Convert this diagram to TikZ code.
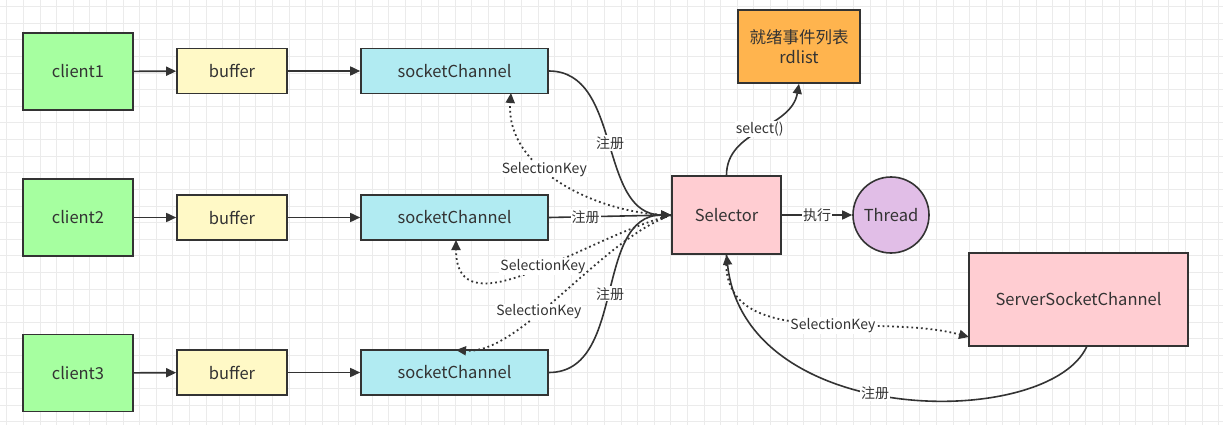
\documentclass[tikz,border=0pt]{standalone}
\usepackage{fontspec}
\setmainfont{Noto Sans CJK SC}
\usetikzlibrary{arrows.meta}
\definecolor{ln}{HTML}{333333}
\definecolor{txt}{HTML}{333333}
\definecolor{gridc}{HTML}{EBEBEB}
\definecolor{cgreen}{HTML}{A6FFA0}
\definecolor{cyellow}{HTML}{FFF9C6}
\definecolor{ccyan}{HTML}{B1EBF2}
\definecolor{cpink}{HTML}{FFCDD2}
\definecolor{cviolet}{HTML}{E1BEE7}
\definecolor{corange}{HTML}{FFB44E}
\begin{document}
\begin{tikzpicture}[x=1pt,y=-1pt,
  box/.style={draw=ln, line width=1.6pt, text=txt, inner sep=0pt, font=\fontsize{16.5}{20}\selectfont},
  lbl/.style={fill=white, text=txt, inner sep=1pt, font=\fontsize{14}{16}\selectfont},
  con/.style={draw=ln, line width=1.6pt, -{Triangle[length=10pt,width=9pt]}},
  key/.style={con, line width=1.8pt, dash pattern=on 1.8pt off 3pt}]
\useasboundingbox (0,0) rectangle (1223,425);
\fill[white] (0,0) rectangle (1223,425);
\draw[gridc, line width=0.8pt, xstep=16.6pt, ystep=16.6pt, shift={(6.7,6.7)}] (-6.7,-6.7) grid (1216,418);
\node[box, fill=cgreen, minimum width=110pt, minimum height=77pt] (cl1) at (78,71.5){client1};
\node[box, fill=cyellow, minimum width=110pt, minimum height=45pt] (buf1) at (232,71){buffer};
\node[box, fill=ccyan, minimum width=187pt, minimum height=45pt] (sc1) at (454.5,71){socketChannel};
\draw[con](cl1) -- (buf1);
\draw[con](buf1) -- (sc1);
\node[box, fill=cgreen, minimum width=110pt, minimum height=77pt] (cl2) at (78,217.5){client2};
\node[box, fill=cyellow, minimum width=110pt, minimum height=45pt] (buf2) at (232,217.5){buffer};
\node[box, fill=ccyan, minimum width=187pt, minimum height=45pt] (sc2) at (454.5,217.5){socketChannel};
\draw[con](cl2) -- (buf2);
\draw[con](buf2) -- (sc2);
\node[box, fill=cgreen, minimum width=110pt, minimum height=77pt] (cl3) at (78,373){client3};
\node[box, fill=cyellow, minimum width=110pt, minimum height=45pt] (buf3) at (232,372.5){buffer};
\node[box, fill=ccyan, minimum width=187pt, minimum height=45pt] (sc3) at (454.5,372.5){socketChannel};
\draw[con](cl3) -- (buf3);
\draw[con](buf3) -- (sc3);
\node[box, fill=cpink, minimum width=109pt, minimum height=78pt] (sel) at (726.5,215){Selector};
\node[box, fill=cviolet, circle, minimum size=76pt] (thr) at (891,215){Thread};
\node[box, fill=corange, minimum width=122pt, minimum height=73pt, align=center] (rd) at (799,46.5){就绪事件列表\\rdlist};
\node[box, fill=cpink, minimum width=219pt, minimum height=93pt] (ssc) at (1078.5,299.5){ServerSocketChannel};
\coordinate (k1) at (511,93);
\coordinate (k2) at (456,240);
\coordinate (k3) at (456,350);
\coordinate (k4) at (969,337);
\coordinate (s1) at (1087,346);
% selection keys
\draw[key](sel.west) .. controls (600,215) and (505,170) .. node[lbl, pos=0.6]{SelectionKey} (k1);
\draw[key](sel.west) to[out=195, in=-90, looseness=1.1] node[lbl, pos=0.45]{SelectionKey} (k2);
\draw[key](sel.west) .. controls (600,240) and (520,355) .. node[lbl, pos=0.6]{SelectionKey} (k3);
\draw[key](sel.south) to[out=-95, in=165] node[lbl, pos=0.58]{SelectionKey} (k4);
% register
\draw[con](sc1.east) to[out=0, in=180] node[lbl]{注册} (sel.west);
\draw[con](sc2.east) -- node[lbl, pos=0.3]{注册} (sel.west);
\draw[con](sc3.east) to[out=0, in=180] node[lbl]{注册} (sel.west);
\draw[con](s1) .. controls (1050,430) and (745,430) .. node[lbl, pos=0.55]{注册} (sel.south);
\draw[con](sel.north) to[out=90, in=-100] node[lbl, pos=0.5]{select()} (rd.south);
\draw[con](sel.east) -- node[lbl]{执行} (thr.west);
\end{tikzpicture}
\end{document}
